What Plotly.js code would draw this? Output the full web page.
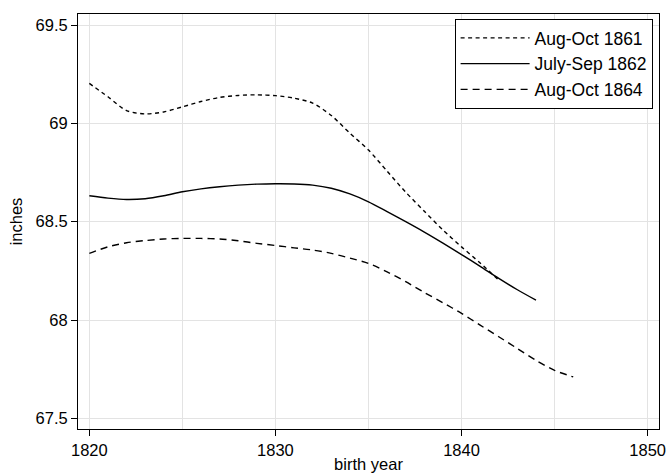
<!DOCTYPE html>
<html>
<head>
<meta charset="utf-8">
<script src="https://cdn.plot.ly/plotly-3.0.1.min.js"></script>
<style>html,body{margin:0;padding:0;background:#fff;}#chart{width:666px;height:473px;}</style>
</head>
<body>
<div id="chart"></div>
<script>
const years1861 = [1820,1821,1822,1823,1824,1825,1826,1827,1828,1829,1830,1831,1832,1833,1834,1835,1836,1837,1838,1839,1840,1841,1842];
const height1861 = [69.203,69.135,69.065,69.048,69.058,69.084,69.111,69.132,69.142,69.145,69.141,69.128,69.103,69.040,68.950,68.864,68.757,68.650,68.553,68.458,68.372,68.290,68.203];

const years1862 = [1820,1821,1822,1823,1824,1825,1826,1827,1828,1829,1830,1831,1832,1833,1834,1835,1836,1837,1838,1839,1840,1841,1842,1843,1844];
const height1862 = [68.632,68.620,68.613,68.617,68.632,68.652,68.667,68.678,68.686,68.691,68.693,68.692,68.686,68.670,68.641,68.601,68.551,68.500,68.447,68.391,68.333,68.273,68.212,68.154,68.101];

const years1864 = [1820,1821,1822,1823,1824,1825,1826,1827,1828,1829,1830,1831,1832,1833,1834,1835,1836,1837,1838,1839,1840,1841,1842,1843,1844,1845,1846];
const height1864 = [68.339,68.372,68.393,68.404,68.412,68.415,68.415,68.412,68.403,68.390,68.379,68.367,68.356,68.339,68.315,68.288,68.245,68.195,68.140,68.088,68.034,67.974,67.915,67.855,67.795,67.744,67.711];

const seriesNames = ["Aug-Oct 1861","July-Sep 1862","Aug-Oct 1864"];
const xTicks = [1820,1830,1840,1850];
const yTicks = [67.5,68,68.5,69,69.5];

const font = "Liberation Sans, Arial, Helvetica, sans-serif";

const traces = [
  {x: years1861, y: height1861, name: seriesNames[0], mode: "lines", legendgroup: "a",
   line: {color: "#000", width: 1.4, dash: "4px,3.5px", shape: "spline", smoothing: 0.8}},
  {x: years1862, y: height1862, name: seriesNames[1], mode: "lines", legendgroup: "b",
   line: {color: "#000", width: 1.4, dash: "solid", shape: "spline", smoothing: 0.8}},
  {x: years1864, y: height1864, name: seriesNames[2], mode: "lines", legendgroup: "c",
   line: {color: "#000", width: 1.4, dash: "7px,5px", shape: "spline", smoothing: 0.8}}
];

const layout = {
  width: 666, height: 473,
  margin: {l: 78, r: 7, t: 14, b: 44},
  paper_bgcolor: "#fff", plot_bgcolor: "#fff",
  font: {family: font, size: 16.5, color: "#000"},
  showlegend: true,
  legend: {
    x: 0.989, y: 0.988, xanchor: "right", yanchor: "top",
    bgcolor: "#fff", bordercolor: "#000", borderwidth: 1,
    font: {family: font, size: 17.5, color: "#000"},
    itemwidth: 69, tracegroupgap: 1, traceorder: "normal"
  },
  xaxis: {
    range: [1819.39, 1850.61],
    tickvals: xTicks, ticktext: xTicks.map(String),
    ticks: "outside", ticklen: 6, tickwidth: 1, tickcolor: "#000",
    ticklabeloverflow: "allow",
    showline: true, linecolor: "#000", linewidth: 1, mirror: true,
    showgrid: true, gridcolor: "#e3e3e3", gridwidth: 1,
    minor: {dtick: 5, tick0: 1820, showgrid: true, gridcolor: "#e3e3e3", gridwidth: 1, ticks: ""},
    zeroline: false,
    tickfont: {family: font, size: 16.5, color: "#000"},
    title: {text: "birth year", font: {family: font, size: 16.5, color: "#000"}, standoff: 2}
  },
  yaxis: {
    range: [67.446, 69.556],
    tickvals: yTicks, ticktext: ["67.5","68","68.5","69","69.5"],
    ticks: "outside", ticklen: 6, tickwidth: 1, tickcolor: "#000",
    showline: true, linecolor: "#000", linewidth: 1, mirror: true,
    showgrid: true, gridcolor: "#e3e3e3", gridwidth: 1,
    zeroline: false,
    tickfont: {family: font, size: 16.5, color: "#000"},
    title: {text: "inches", font: {family: font, size: 16.5, color: "#000"}, standoff: 8}
  }
};

Plotly.newPlot("chart", traces, layout, {displayModeBar: false, staticPlot: true});
</script>
</body>
</html>
